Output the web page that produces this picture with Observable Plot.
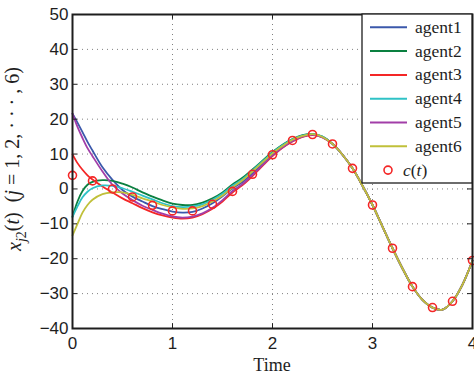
<!DOCTYPE html>
<html>
<head>
<meta charset="utf-8">
<script src="https://cdn.jsdelivr.net/npm/d3@7"></script>
<script src="https://cdn.jsdelivr.net/npm/@observablehq/plot@0.6"></script>
<style>
  html, body { margin: 0; padding: 0; background: #fff; }
  #chart { position: relative; width: 474px; height: 377px; }
</style>
</head>
<body>
<div id="chart"></div>
<script>
// Sample times for the agent trajectories
const time = [0, 0.05, 0.1, 0.15, 0.2, 0.3, 0.4, 0.5, 0.6, 0.7, 0.8, 0.9, 1.0, 1.1, 1.2, 1.3, 1.4, 1.5, 1.6,
  1.7, 1.8, 1.9, 2.0, 2.1, 2.2, 2.3, 2.4, 2.5,
  2.6, 2.7, 2.8, 2.9, 3.0, 3.1, 3.2, 3.3, 3.4, 3.5, 3.6, 3.7, 3.8, 3.9, 4.0];

// Second state component x_j2(t) of each agent
const agent1 = [21.6, 19.0, 16.3, 13.5, 11.0, 6.2, 2.6, -0.3, -2.2, -3.6, -4.9, -5.8, -6.5, -6.8, -6.6, -5.6, -4.1, -2.1, 0.2,
  2.0, 4.5, 7.2, 9.9, 12.1, 13.9, 15.1, 15.6, 14.9,
  12.9, 9.8, 5.9, 0.9, -4.6, -10.8, -17.0, -22.8, -28.0, -31.8, -34.0, -34.6, -32.2, -27.4, -20.5];
const agent2 = [-8.0, -3.6, -0.6, 1.2, 2.0, 2.5, 2.3, 1.5, 0.4, -1.0, -2.2, -3.3, -4.2, -4.6, -4.6, -3.9, -2.7, -1.0, 1.3,
  3.2, 5.6, 8.1, 10.6, 12.7, 14.3, 15.4, 15.8, 15.0,
  12.9, 9.8, 5.9, 0.9, -4.6, -10.8, -17.0, -22.8, -28.0, -31.8, -34.0, -34.6, -32.2, -27.4, -20.5];
const agent3 = [9.9, 7.4, 5.5, 3.9, 2.7, 0.7, -1.0, -2.7, -4.1, -5.5, -6.7, -7.6, -8.2, -8.5, -8.2, -7.2, -5.7, -3.6, -1.0,
  1.1, 3.7, 6.6, 9.4, 11.8, 13.6, 14.9, 15.4, 14.8,
  12.9, 9.8, 5.9, 0.9, -4.6, -10.8, -17.0, -22.8, -28.0, -31.8, -34.0, -34.6, -32.2, -27.4, -20.5];
const agent4 = [-8.0, -5.0, -2.4, -0.8, 0.2, 1.0, 0.9, 0.2, -0.8, -1.9, -3.0, -4.1, -4.9, -5.2, -5.0, -4.4, -3.1, -1.4, 0.9,
  2.8, 5.3, 7.9, 10.4, 12.5, 14.2, 15.3, 15.7, 15.0,
  12.9, 9.8, 5.9, 0.9, -4.6, -10.8, -17.0, -22.8, -28.0, -31.8, -34.0, -34.6, -32.2, -27.4, -20.5];
const agent5 = [21.6, 17.8, 14.6, 11.7, 9.4, 5.0, 1.2, -1.3, -3.2, -4.8, -6.0, -7.1, -7.9, -8.2, -7.9, -7.0, -5.4, -3.2, -0.6,
  1.4, 4.0, 6.8, 9.6, 11.9, 13.7, 15.0, 15.5, 14.8,
  12.9, 9.8, 5.9, 0.9, -4.6, -10.8, -17.0, -22.8, -28.0, -31.8, -34.0, -34.6, -32.2, -27.4, -20.5];
const agent6 = [-13.3, -10.0, -6.8, -4.6, -3.1, -1.5, -1.0, -1.0, -1.7, -2.7, -3.6, -4.6, -5.3, -5.7, -5.6, -4.9, -3.6, -1.9, 0.4,
  2.5, 5.0, 7.6, 10.2, 12.3, 14.1, 15.2, 15.7, 14.9,
  12.9, 9.8, 5.9, 0.9, -4.6, -10.8, -17.0, -22.8, -28.0, -31.8, -34.0, -34.6, -32.2, -27.4, -20.5];

// Reference signal c(t), marked every 0.2 s
const cTime = [0, 0.2, 0.4, 0.6, 0.8, 1.0, 1.2, 1.4, 1.6, 1.8, 2.0, 2.2, 2.4, 2.6, 2.8, 3.0, 3.2, 3.4, 3.6, 3.8, 4.0];
const cValue = [3.9, 2.3, 0.0, -2.3, -4.7, -6.3, -6.3, -4.4, -0.7, 4.2, 9.8, 13.9, 15.6, 12.9, 5.9, -4.6, -17.0, -28.0, -34.0, -32.2, -20.5];

const names = ["agent1", "agent2", "agent3", "agent4", "agent5", "agent6"];
const colors = ["#3b58ab", "#0a8040", "#f42626", "#2fc2c6", "#a23ea8", "#c0c03a"];
const xTicks = [0, 1, 2, 3, 4];
const yTicks = [-40, -30, -20, -10, 0, 10, 20, 30, 40, 50];

const series = [agent1, agent2, agent3, agent4, agent5, agent6];
const rows = names.flatMap((name, i) => time.map((t, k) => ({t, v: series[i][k], agent: name})));
const cRows = cTime.map((t, i) => ({t, v: cValue[i]}));

const ink = "#1e1e1e";
const markerColor = "#f42626";
const intFormat = d3.format("d");

const plot = Plot.plot({
  width: 474,
  height: 377,
  marginLeft: 72,
  marginRight: 2,
  marginTop: 14,
  marginBottom: 49,
  style: {fontFamily: "'Liberation Sans', Arial, sans-serif", fontSize: "17px", background: "#fff", color: ink},
  x: {domain: [0, 4]},
  y: {domain: [-40, 50]},
  color: {domain: names, range: colors},
  marks: [
    Plot.gridX({ticks: xTicks, stroke: "#808080", strokeOpacity: 1, strokeWidth: 1, strokeDasharray: "1,4"}),
    Plot.gridY({ticks: yTicks, stroke: "#808080", strokeOpacity: 1, strokeWidth: 1, strokeDasharray: "1,4"}),
    Plot.line(rows, {x: "t", y: "v", z: "agent", stroke: "agent", strokeWidth: 1.8, curve: "catmull-rom"}),
    Plot.dot(cRows, {x: "t", y: "v", r: 4, stroke: markerColor, strokeWidth: 1.6, fill: "none"}),
    // inward tick marks on all four sides
    Plot.ruleX(xTicks, {y1: -40, y2: -38.6, stroke: ink}),
    Plot.ruleX(xTicks, {y1: 48.6, y2: 50, stroke: ink}),
    Plot.ruleY(yTicks, {x1: 0, x2: 0.05, stroke: ink}),
    Plot.ruleY(yTicks, {x1: 3.95, x2: 4, stroke: ink}),
    Plot.frame({stroke: ink, strokeWidth: 2}),
    Plot.axisX({ticks: xTicks, tickFormat: intFormat, tickSize: 0, tickPadding: 8, label: null}),
    Plot.axisY({ticks: yTicks, tickFormat: intFormat, tickSize: 0, tickPadding: 4, label: null})
  ]
});

document.getElementById("chart").appendChild(plot);

const svg = d3.select(plot);
const serif = "'Liberation Serif', 'Times New Roman', serif";

// x-axis title
svg.append("text")
  .attr("x", 272).attr("y", 371)
  .attr("text-anchor", "middle")
  .style("font-family", serif).style("font-size", "18px")
  .attr("fill", ink)
  .text("Time");

// y-axis title: x_{j2}(t)  (j = 1, 2, ..., 6)
const yl = svg.append("text")
  .attr("transform", "translate(21,159) rotate(-90)")
  .attr("text-anchor", "middle")
  .style("font-family", serif).style("font-size", "20px")
  .attr("fill", ink);
yl.append("tspan").style("font-style", "italic").text("x");
yl.append("tspan").style("font-style", "italic").style("font-size", "14px").attr("dy", "0.35em").text("j");
yl.append("tspan").style("font-size", "14px").text("2");
yl.append("tspan").attr("dy", "-0.35em").text("(");
yl.append("tspan").style("font-style", "italic").text("t");
yl.append("tspan").text(")\u00a0\u00a0(");
yl.append("tspan").style("font-style", "italic").text("j");
yl.append("tspan").text("\u00a0=\u00a01,\u00a02,\u00a0\u00b7\u00a0\u00b7\u00a0\u00b7\u00a0,\u00a06)");

// legend box in the upper right corner
const lg = svg.append("g").attr("fill", ink).attr("text-anchor", "start");
lg.append("rect")
  .attr("x", 362).attr("y", 14).attr("width", 110).attr("height", 169)
  .attr("fill", "#fff").attr("stroke", ink).attr("stroke-width", 1.3);
names.forEach((name, i) => {
  const y = 27.3 + i * 23.8;
  lg.append("line").attr("x1", 370).attr("x2", 407).attr("y1", y).attr("y2", y)
    .attr("stroke", colors[i]).attr("stroke-width", 2);
  lg.append("text").attr("x", 415).attr("y", y + 5.5)
    .attr("text-anchor", "start")
    .style("font-family", serif).style("font-size", "17.5px")
    .text(name);
});
const cy = 27.3 + 6 * 23.8;
lg.append("circle").attr("cx", 388).attr("cy", cy).attr("r", 4)
  .attr("fill", "none").attr("stroke", markerColor).attr("stroke-width", 1.6);
const ct = lg.append("text").attr("x", 403).attr("y", cy + 5.5)
  .attr("text-anchor", "start")
  .style("font-family", serif).style("font-size", "17.5px");
ct.append("tspan").style("font-style", "italic").text("c");
ct.append("tspan").text("(");
ct.append("tspan").style("font-style", "italic").text("t");
ct.append("tspan").text(")");
</script>
</body>
</html>
